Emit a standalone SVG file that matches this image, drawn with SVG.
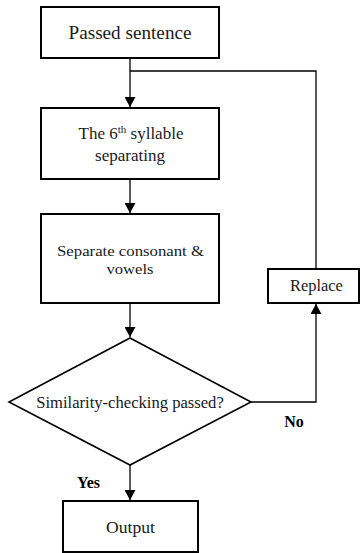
<svg xmlns="http://www.w3.org/2000/svg" width="361" height="553" viewBox="0 0 361 553">
<style>
.box{fill:#fff;stroke:#000;stroke-width:2}
.ln{fill:none;stroke:#000;stroke-width:1.3}
text{font-family:"Liberation Serif","Times New Roman",serif;fill:#1a1a1a;text-anchor:middle}
.b{font-weight:bold;fill:#000}
</style>
<defs>
<marker id="ah" markerWidth="10" markerHeight="11" refX="10" refY="5.5" orient="auto" markerUnits="userSpaceOnUse">
<path d="M0,0 L10,5.5 L0,11 Z" fill="#000"/>
</marker>
</defs>
<rect width="361" height="553" fill="#fff"/>
<g id="connectors">
<path class="ln" d="M130,58 V107" marker-end="url(#ah)"/>
<path class="ln" d="M130,71 H316 V269"/>
<path class="ln" d="M130,179 V213" marker-end="url(#ah)"/>
<path class="ln" d="M130,303 V337" marker-end="url(#ah)"/>
<path class="ln" d="M251,402 H316 V304" marker-end="url(#ah)"/>
<path class="ln" d="M130,465 V500" marker-end="url(#ah)"/>
<text class="b" x="294" y="427" font-size="16">No</text>
<text class="b" x="88.5" y="488" font-size="16">Yes</text>
</g>
<g id="n1">
<rect class="box" x="41" y="7" width="178" height="51"/>
<text x="130" y="38.5" font-size="19" textLength="123" lengthAdjust="spacingAndGlyphs">Passed sentence</text>
</g>
<g id="n2">
<rect class="box" x="41" y="108" width="178" height="71"/>
<text x="131" y="139" font-size="17">The 6<tspan font-size="11" dy="-6">th</tspan><tspan dy="6"> syllable</tspan></text>
<text x="130" y="160.5" font-size="17">separating</text>
</g>
<g id="n3">
<rect class="box" x="41" y="214" width="178" height="89"/>
<text x="130.5" y="255.5" font-size="15.5" textLength="147" lengthAdjust="spacingAndGlyphs">Separate consonant &amp;</text>
<text x="130" y="273.5" font-size="15.5" textLength="47" lengthAdjust="spacingAndGlyphs">vowels</text>
</g>
<g id="n4">
<polygon class="box" points="130,338 251,402 130,465 9,402" style="stroke-width:1.6"/>
<text x="130" y="408" font-size="16.6">Similarity-checking passed?</text>
</g>
<g id="n5">
<rect class="box" x="268" y="269" width="91" height="34"/>
<text x="316.5" y="291" font-size="16.4">Replace</text>
</g>
<g id="n6">
<rect class="box" x="63" y="501" width="135" height="51"/>
<text x="130.5" y="533" font-size="17.6">Output</text>
</g>
</svg>
